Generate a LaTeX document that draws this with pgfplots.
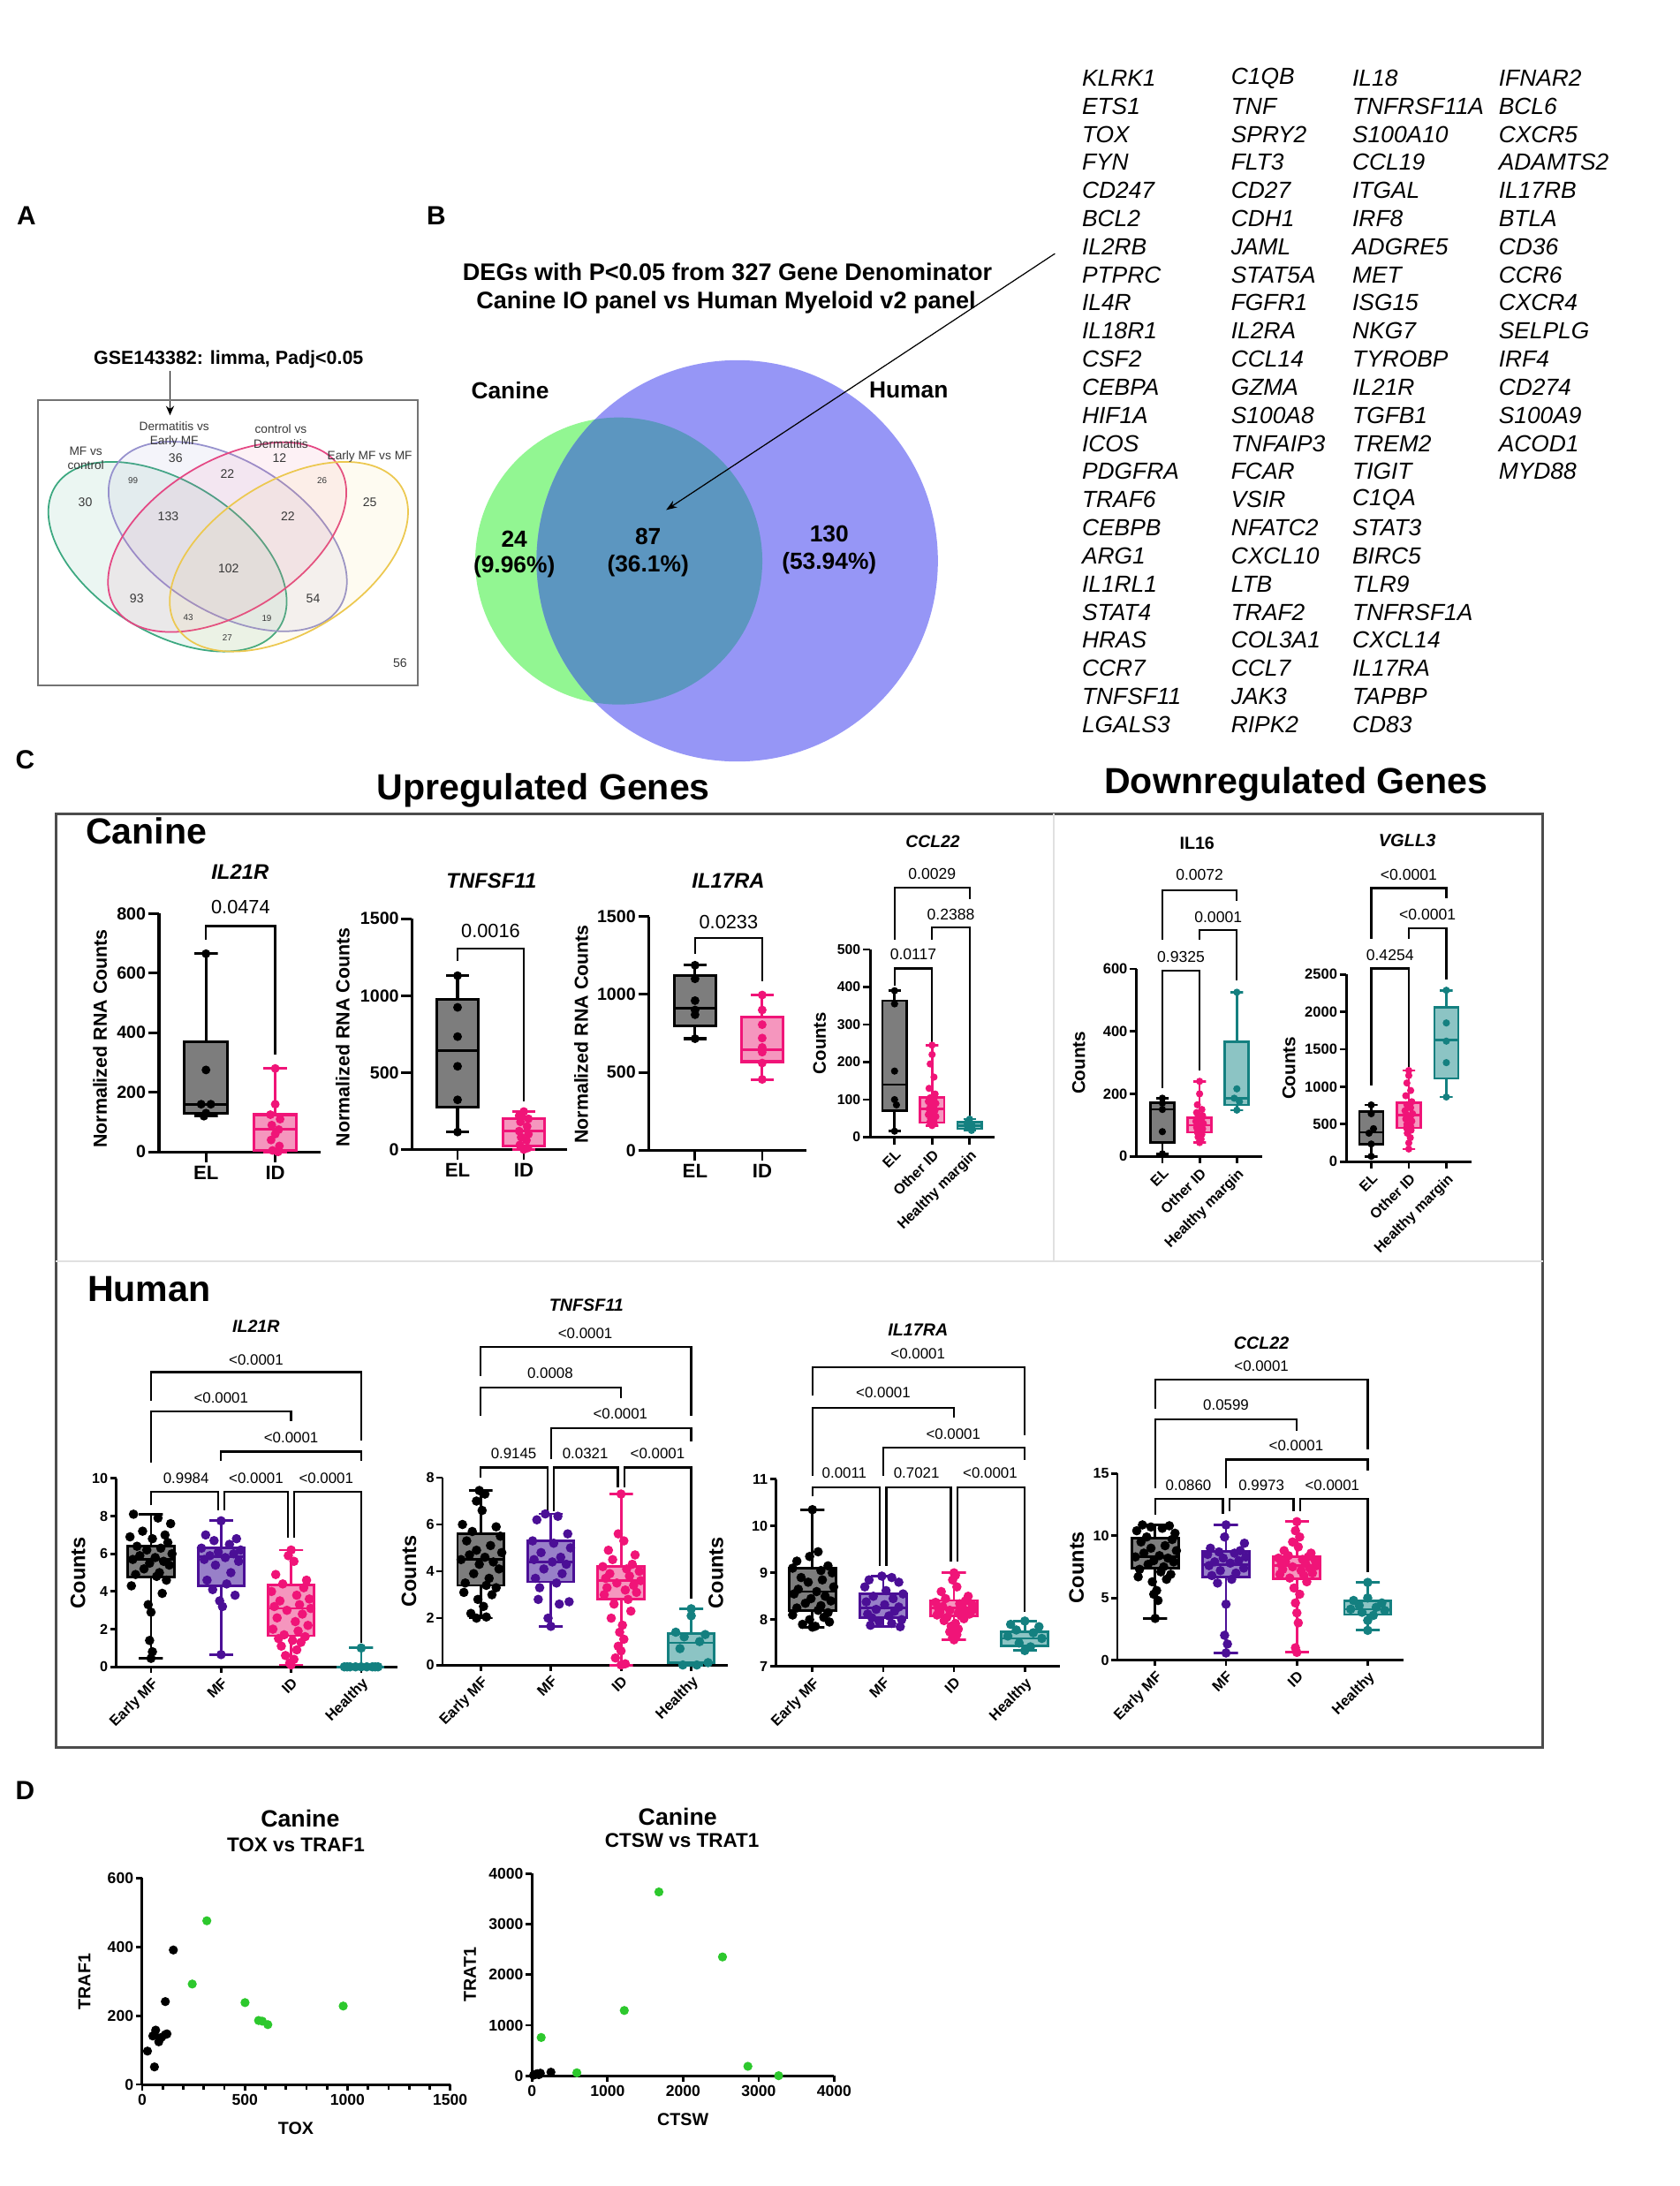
\documentclass[border=0pt]{standalone}
\usepackage{fontspec}
\setmainfont{Liberation Sans}
\usepackage{pgfplots}
\pgfplotsset{compat=1.18}
\usetikzlibrary{arrows.meta}

\newcommand\fs[1]{\fontsize{#1}{#1}\selectfont}

\definecolor{elgray}{RGB}{125,125,125}
\definecolor{pinkE}{RGB}{240,20,120}
\definecolor{pinkF}{RGB}{245,150,190}
\definecolor{purpE}{RGB}{75,15,150}
\definecolor{purpF}{RGB}{152,128,200}
\definecolor{tealE}{RGB}{20,128,128}
\definecolor{tealF}{RGB}{140,196,196}
\definecolor{ptgreen}{RGB}{45,200,45}
\definecolor{vgreen}{RGB}{146,246,146}
\definecolor{vblue}{RGB}{150,150,246}
\definecolor{vover}{RGB}{92,150,192}
\definecolor{vaG}{RGB}{60,168,128}
\definecolor{vaP}{RGB}{150,145,205}
\definecolor{vaR}{RGB}{228,72,132}
\definecolor{vaY}{RGB}{236,200,80}
\definecolor{txtA}{RGB}{55,55,55}

\pgfplotsset{
  gp/.style={
    scale only axis, clip=false,
    axis lines*=left,
    axis line style={line width=0.85pt,-},
    tick style={line width=0.8pt,black},
    tick align=outside, major tick length=2pt,
    scaled ticks=false,
    /pgf/number format/assume math mode=true,
    /pgf/number format/1000 sep={},
    yticklabel style={inner sep=0.6pt},
    xticklabel style={inner sep=1pt},
  },
  can2/.style={gp, xtick={1,2}, xticklabels={EL,ID}, major tick length=3.4pt,
    axis line style={line width=0.95pt},
    xticklabel style={font=\bfseries\fs{6.3}},
    yticklabel style={font=\bfseries\fs{5.6}}},
  can3/.style={gp, xtick={1,2,3}, xticklabels={EL,Other ID,Healthy margin},
    xticklabel style={rotate=45, anchor=north east, inner sep=0.8pt, font=\bfseries\fs{4.65}},
    major tick length=2.4pt},
  hum/.style={gp, xtick={1,2,3,4}, xticklabels={Early MF,MF,ID,Healthy},
    xticklabel style={font=\bfseries\fs{4.7}, rotate=45, anchor=north east, inner sep=0.8pt},
    yticklabel style={font=\bfseries\fs{4.6}}, major tick length=1.9pt,
    axis line style={line width=0.8pt}},
  brk/.style={black, line width=0.65pt, mark=none},
  pts/.style={only marks, mark=*, mark size=#1},
}

% box and whiskers: position, low whisker, Q1, median, Q3, high whisker, edge, fill
\def\bxhw{0.32}\def\bxcw{0.17}\def\bxlw{0.9pt}
\newcommand\bxp[8]{%
  \pgfmathsetmacro\bxL{#1-\bxhw}\pgfmathsetmacro\bxR{#1+\bxhw}%
  \pgfmathsetmacro\bwL{#1-\bxcw}\pgfmathsetmacro\bwR{#1+\bxcw}%
  \edef\bxtmp{%
    \noexpand\addplot[draw=#7, fill=#8, line width=\bxlw, line cap=rect] coordinates {(\bxL,#3)(\bxR,#3)(\bxR,#5)(\bxL,#5)(\bxL,#3)};%
    \noexpand\addplot[draw=#7, line width=\bxlw] coordinates {(\bxL,#4)(\bxR,#4)};%
    \noexpand\addplot[draw=#7, line width=\bxlw] coordinates {(\bwL,#6)(\bwR,#6)(#1,#6)(#1,#5)};%
    \noexpand\addplot[draw=#7, line width=\bxlw] coordinates {(\bwL,#2)(\bwR,#2)(#1,#2)(#1,#3)};%
  }\bxtmp}

\begin{document}
\begin{tikzpicture}
\path[use as bounding box] (0,0) rectangle (19.01,24.75);

% ---------- content placed in screen units of the reference (1 unit = 1.5785 px)
\begin{scope}[x=0.015785cm, y=-0.015785cm, yshift=24.75cm]
\node[font=\bfseries\fs{8.5}] at (19,155) {A};
\node[font=\bfseries\fs{8.5}] at (313,155) {B};
\node[font=\bfseries\fs{8.5}] at (18,545) {C};
\node[font=\bfseries\fs{8.5}] at (18,1285) {D};

% A: four-set Venn
\node[font=\bfseries\fs{6.1}] at (164,258) {GSE143382: limma, Padj<0.05};
\draw[-{Stealth[length=3pt,width=2.6pt]}, line width=0.5pt] (122,266) -- (122,298);
\draw[black!55, line width=0.6pt] (27,287) rectangle (300,492);
\begin{scope}[line width=0.5pt]
\draw[vaG, fill=vaG, fill opacity=0.1, rotate around={-32:(120.2,399.5)}] (120.2,399.5) ellipse [x radius=95, y radius=54];
\draw[vaP, fill=vaP, fill opacity=0.1, rotate around={-32:(163.4,385)}] (163.4,385) ellipse [x radius=95, y radius=54];
\draw[vaR, fill=vaR, fill opacity=0.08, rotate around={32:(163,385.5)}] (163,385.5) ellipse [x radius=95, y radius=54];
\draw[vaY, fill=vaY, fill opacity=0.08, rotate around={32:(207.3,399.5)}] (207.3,399.5) ellipse [x radius=95, y radius=54];
\end{scope}
\begin{scope}[every node/.style={text=txtA, inner sep=0pt}]
\node[align=center, font=\fontsize{3.9}{4.6}\selectfont] at (61.6,328.8) {MF vs\\control};
\node[align=center, font=\fontsize{3.9}{4.6}\selectfont] at (125,311.8) {Dermatitis vs\\Early MF};
\node[align=center, font=\fontsize{3.9}{4.6}\selectfont] at (201.5,313.2) {control vs\\Dermatitis};
\node[font=\fs{3.9}] at (265.3,327.8) {Early MF vs MF};
\node[font=\fs{4}] at (126,329) {36};
\node[font=\fs{4}] at (200.5,329) {12};
\node[font=\fs{4}] at (61.2,360.5) {30};
\node[font=\fs{2.8}] at (95.4,344.6) {99};
\node[font=\fs{4}] at (163.1,340.2) {22};
\node[font=\fs{2.8}] at (231.1,344.6) {26};
\node[font=\fs{4}] at (265.3,360.5) {25};
\node[font=\fs{4}] at (120.7,370.5) {133};
\node[font=\fs{4}] at (206.6,370.5) {22};
\node[font=\fs{4}] at (164,408.2) {102};
\node[font=\fs{4}] at (98.1,429.7) {93};
\node[font=\fs{4}] at (224.7,429.7) {54};
\node[font=\fs{2.8}] at (135.1,443.2) {43};
\node[font=\fs{2.8}] at (191.4,443.6) {19};
\node[font=\fs{2.8}] at (163.1,457.8) {27};
\node[font=\fs{4}] at (287,475.8) {56};
\end{scope}

% B: two-set Venn
\fill[vgreen] (444,402.6) circle [radius=103];
\fill[vblue] (529,402.5) circle [radius=144];
\begin{scope}
\clip (444,402.6) circle [radius=103];
\fill[vover] (529,402.5) circle [radius=144];
\end{scope}
\node[font=\bfseries\fs{7.7}] at (522,195) {DEGs with P<0.05 from 327 Gene Denominator};
\node[font=\bfseries\fs{7.7}] at (521,217) {Canine IO panel vs Human Myeloid v2 panel};
\node[font=\bfseries\fs{7.5}] at (366,280) {Canine};
\node[font=\bfseries\fs{7.5}] at (652,280) {Human};
\node[font=\bfseries\fs{7.5}] at (369,386.6) {24};
\node[font=\bfseries\fs{7.5}] at (369,407) {(9.96\%)};
\node[font=\bfseries\fs{7.5}] at (465,385) {87};
\node[font=\bfseries\fs{7.5}] at (465,406) {(36.1\%)};
\node[font=\bfseries\fs{7.5}] at (595,383) {130};
\node[font=\bfseries\fs{7.5}] at (595,404) {(53.94\%)};
\draw[-{Stealth[length=3.5pt,width=2.5pt]}, line width=0.35pt] (757,182) -- (478,366);

% gene list
\begin{scope}[every node/.style={anchor=west, inner sep=0pt, font=\itshape\fs{7.5}}]
\foreach \g [count=\i from 0] in {KLRK1,ETS1,TOX,FYN,CD247,BCL2,IL2RB,PTPRC,IL4R,IL18R1,CSF2,CEBPA,HIF1A,ICOS,PDGFRA,TRAF6,CEBPB,ARG1,IL1RL1,STAT4,HRAS,CCR7,TNFSF11,LGALS3}
  \node at (776,{56+20.17*\i}) {\g};
\foreach \g [count=\i from 0] in {C1QB,TNF,SPRY2,FLT3,CD27,CDH1,JAML,STAT5A,FGFR1,IL2RA,CCL14,GZMA,S100A8,TNFAIP3,FCAR,VSIR,NFATC2,CXCL10,LTB,TRAF2,COL3A1,CCL7,JAK3,RIPK2}
  \node at (883,{56+20.17*\i}) {\g};
\foreach \g [count=\i from 0] in {IL18,TNFRSF11A,S100A10,CCL19,ITGAL,IRF8,ADGRE5,MET,ISG15,NKG7,TYROBP,IL21R,TGFB1,TREM2,TIGIT,C1QA,STAT3,BIRC5,TLR9,TNFRSF1A,CXCL14,IL17RA,TAPBP,CD83}
  \node at (970,{56+20.17*\i}) {\g};
\foreach \g [count=\i from 0] in {IFNAR2,BCL6,CXCR5,ADAMTS2,IL17RB,BTLA,CD36,CCR6,CXCR4,SELPLG,IRF4,CD274,S100A9,ACOD1,MYD88}
  \node at (1075,{56+20.17*\i}) {\g};
\end{scope}

% C: frame and headings
\node[font=\bfseries\fs{11.7}] at (390,567) {Upregulated Genes};
\node[font=\bfseries\fs{11.7}] at (930,563) {Downregulated Genes};
\draw[black!70, line width=0.8pt] (40,584) rectangle (1107,1254);
\draw[black!12, line width=0.6pt] (756,584) -- (756,905) (40,905) -- (1107,905);
\node[font=\bfseries\fs{11.7}] at (105,596) {Canine};
\node[font=\bfseries\fs{11.7}] at (107,925) {Human};

% D: headings and labels
\node[font=\bfseries\fs{7.6}] at (215.4,1305) {Canine};
\node[font=\bfseries\fs{6.4}] at (212.3,1324) {TOX vs TRAF1};
\node[font=\bfseries\fs{7.6}] at (486.3,1304) {Canine};
\node[font=\bfseries\fs{6.4}] at (489.4,1321) {CTSW vs TRAT1};
\node[font=\bfseries\fs{5.6}] at (212.3,1527.6) {TOX};
\node[font=\bfseries\fs{5.6}] at (490,1521) {CTSW};
\node[rotate=90, font=\bfseries\fs{5.6}] at (60.6,1422) {TRAF1};
\node[rotate=90, font=\bfseries\fs{5.6}] at (337.3,1417) {TRAT1};
\end{scope}

% ---------- content placed in pixels of the reference
\begin{scope}[x=0.01cm, y=-0.01cm, yshift=24.75cm]
% titles
\node[font=\bfseries\itshape\fs{6.8}] at (272,988) {IL21R};
\node[font=\bfseries\itshape\fs{6.8}] at (556.7,998) {TNFSF11};
\node[font=\bfseries\itshape\fs{6.8}] at (825,998) {IL17RA};
\node[font=\bfseries\itshape\fs{5.5}] at (1056.7,953.3) {CCL22};
\node[font=\bfseries\fs{5.6}] at (1356,955) {IL16};
\node[font=\bfseries\itshape\fs{5.7}] at (1594,952) {VGLL3};
\node[font=\bfseries\itshape\fs{5.6}] at (290,1503) {IL21R};
\node[font=\bfseries\itshape\fs{5.6}] at (664.2,1479) {TNFSF11};
\node[font=\bfseries\itshape\fs{5.6}] at (1039.9,1506.7) {IL17RA};
\node[font=\bfseries\itshape\fs{5.6}] at (1428.9,1522) {CCL22};
% y labels
\node[rotate=90, inner sep=0pt, font=\bfseries\fs{6.1}] at (113.3,1176.7) {Normalized RNA Counts};
\node[rotate=90, inner sep=0pt, font=\bfseries\fs{6.1}] at (388.3,1175) {Normalized RNA Counts};
\node[rotate=90, inner sep=0pt, font=\bfseries\fs{6.1}] at (658.3,1171.7) {Normalized RNA Counts};
\node[rotate=90, inner sep=0pt, font=\bfseries\fs{5.8}] at (928.3,1181.7) {Counts};
\node[rotate=90, inner sep=0pt, font=\bfseries\fs{5.9}] at (1222,1204) {Counts};
\node[rotate=90, inner sep=0pt, font=\bfseries\fs{5.9}] at (1460,1210) {Counts};
\node[rotate=90, inner sep=0pt, font=\bfseries\fs{6.7}] at (88.4,1781.8) {Counts};
\node[rotate=90, inner sep=0pt, font=\bfseries\fs{6.7}] at (463.3,1780) {Counts};
\node[rotate=90, inner sep=0pt, font=\bfseries\fs{6.7}] at (810.9,1781.8) {Counts};
\node[rotate=90, inner sep=0pt, font=\bfseries\fs{6.7}] at (1219.4,1775.6) {Counts};
% axis anchors (lower-left corners)
\coordinate (cA) at (180,1305);
\coordinate (cB) at (466.7,1302.3);
\coordinate (cC) at (735,1303.3);
\coordinate (cD) at (986,1288.3);
\coordinate (cE) at (1287.3,1310);
\coordinate (cF) at (1525,1316);
\coordinate (hA) at (131.7,1888.3);
\coordinate (hB) at (501.3,1886.2);
\coordinate (hC) at (879.1,1887.9);
\coordinate (hD) at (1265.8,1880.8);
\coordinate (sA) at (161,2361.4);
\coordinate (sB) at (602.7,2351.5);
\end{scope}

% ================= Canine IL21R
\def\bxhw{0.31}\def\bxlw{0.9pt}
\begin{axis}[can2, at={(cA)}, anchor=south west, width=1.833cm, height=2.70cm,
  xmin=0.32, xmax=2.658, ymin=0, ymax=800, ytick={0,200,400,600,800}]
\bxp{1}{120}{130}{160}{370}{665}{black}{elgray}
\bxp{2}{0}{5}{75}{125}{280}{pinkE}{pinkF}
\addplot[pts=1.2pt, black] coordinates {(1,665)(1,275)(0.93,160)(1.07,160)(1,130)(0.97,120)};
\addplot[pts=1.2pt, pinkE] coordinates {(2,280)(2,160)(1.93,125)(2.07,110)(1.95,90)(2.05,75)(2.0,60)(1.94,40)(2.06,20)(1.96,5)(2.04,0)};
\addplot[brk] coordinates {(1,712)(1,758)(2,758)(2,326)};
\node[font=\fs{6.2}] at (axis cs:1.5,821) {0.0474};
\end{axis}

% ================= Canine TNFSF11
\begin{axis}[can2, at={(cB)}, anchor=south west, width=1.76cm, height=2.613cm,
  xmin=0.312, xmax=2.659, ymin=0, ymax=1500, ytick={0,500,1000,1500}]
\bxp{1}{114}{275}{641}{974}{1130}{black}{elgray}
\bxp{2}{0}{25}{120}{200}{247}{pinkE}{pinkF}
\addplot[pts=1.2pt, black] coordinates {(1,1130)(1,924)(1,734)(1,541)(1,323)(1,114)};
\addplot[pts=1.2pt, pinkE] coordinates {(2,247)(1.93,220)(2.07,200)(1.95,180)(2.05,150)(1.93,120)(2.07,100)(1.96,80)(2.04,60)(1.94,30)(2.06,10)(2,0)};
\addplot[brk] coordinates {(1,1224)(1,1305)(2,1305)(2,313)};
\node[font=\fs{6.2}] at (axis cs:1.5,1420) {0.0016};
\end{axis}

% ================= Canine IL17RA
\begin{axis}[can2, at={(cC)}, anchor=south west, width=1.785cm, height=2.65cm,
  xmin=0.312, xmax=2.66, ymin=0, ymax=1500, ytick={0,500,1000,1500}]
\bxp{1}{716}{797}{911}{1120}{1187}{black}{elgray}
\bxp{2}{455}{569}{645}{854}{996}{pinkE}{pinkF}
\addplot[pts=1.2pt, black] coordinates {(1,1187)(1,1100)(1,960)(1,900)(1,870)(1,716)};
\addplot[pts=1.2pt, pinkE] coordinates {(2,996)(2,900)(2,806)(2,720)(2,660)(2,630)(2,560)(2,455)};
\addplot[brk] coordinates {(1,1262)(1,1361)(2,1361)(2,1082)};
\node[font=\fs{6.2}] at (axis cs:1.5,1462) {0.0233};
\end{axis}

% ================= Canine CCL22
\def\bxhw{0.32}\def\bxcw{0.17}\def\bxlw{0.75pt}
\begin{axis}[can3, at={(cD)}, anchor=south west, width=1.407cm, height=2.126cm,
  xmin=0.357, xmax=3.668, ymin=0, ymax=500, ytick={0,100,200,300,400,500},
  yticklabel style={font=\bfseries\fs{4.5}}]
\bxp{1}{16}{71}{140}{363}{390}{black}{elgray}
\bxp{2}{31}{39}{75}{106}{245}{pinkE}{pinkF}
\bxp{3}{18}{22}{30}{40}{48}{tealE}{tealF}
\addplot[pts=0.95pt, black] coordinates {(1,390)(1,355)(1,176)(1,100)(1.05,86)(1,16)};
\addplot[pts=0.95pt, pinkE] coordinates {(2,245)(2,220)(1.95,195)(2.05,160)(1.92,130)(2.08,115)(1.95,105)(2.05,100)(1.9,95)(2.1,90)(1.96,85)(2.04,80)(1.92,75)(2.08,72)(1.95,68)(2.05,64)(1.9,60)(2.1,55)(1.96,50)(2.04,45)(1.94,40)(2.06,38)(2,35)(2,31)};
\addplot[pts=0.95pt, tealE] coordinates {(3,48)(2.93,38)(3.07,30)(2.95,25)(3.05,18)};
\addplot[brk] coordinates {(1,404)(1,449)(2,449)(2,253)};
\addplot[brk] coordinates {(2,525)(2,558)(3,558)(3,55)};
\addplot[brk] coordinates {(1,525)(1,665)(3,665)(3,634)};
\node[font=\fs{5}] at (axis cs:1.5,488) {0.0117};
\node[font=\fs{5}] at (axis cs:2.5,592) {0.2388};
\node[font=\fs{5}] at (axis cs:2,700) {0.0029};
\end{axis}

% ================= Canine IL16
\begin{axis}[can3, at={(cE)}, anchor=south west, width=1.42cm, height=2.123cm,
  xmin=0.303, xmax=3.671, ymin=0, ymax=600, ytick={0,200,400,600},
  major tick length=2.1pt, yticklabel style={font=\bfseries\fs{4.7}}]
\bxp{1}{8}{44}{150}{171}{186}{black}{elgray}
\bxp{2}{44}{77}{100}{124}{240}{pinkE}{pinkF}
\bxp{3}{148}{165}{186}{367}{525}{tealE}{tealF}
\addplot[pts=0.95pt, black] coordinates {(1,186)(1,170)(1,150)(1,79)(1,8)};
\addplot[pts=0.95pt, pinkE] coordinates {(2,240)(2,200)(1.94,165)(2.06,150)(1.92,140)(2.08,130)(1.95,124)(2.05,118)(1.9,112)(2.1,105)(1.96,100)(2.04,96)(1.92,92)(2.08,88)(1.95,84)(2.05,80)(1.94,77)(2.06,70)(1.96,62)(2.04,55)(2,48)(2,44)};
\addplot[pts=0.95pt, tealE] coordinates {(3,525)(3,216)(2.93,186)(3.07,175)(3,148)};
\addplot[brk] coordinates {(1,218)(1,595)(2,595)(2,275)};
\addplot[brk] coordinates {(2,694)(2,724)(3,724)(3,564)};
\addplot[brk] coordinates {(1,694)(1,851)(3,851)(3,817)};
\node[font=\fs{5}] at (axis cs:1.5,638) {0.9325};
\node[font=\fs{5}] at (axis cs:2.5,765) {0.0001};
\node[font=\fs{5}] at (axis cs:2,900) {0.0072};
\end{axis}

% ================= Canine VGLL3
\begin{axis}[can3, at={(cF)}, anchor=south west, width=1.417cm, height=2.12cm,
  xmin=0.334, xmax=3.668, ymin=0, ymax=2500, ytick={0,500,1000,1500,2000,2500},
  major tick length=2.1pt, yticklabel style={font=\bfseries\fs{4.7}}]
\bxp{1}{71}{235}{392}{667}{757}{black}{elgray}
\bxp{2}{169}{451}{620}{785}{1217}{pinkE}{pinkF}
\bxp{3}{863}{1110}{1621}{2060}{2288}{tealE}{tealF}
\addplot[pts=0.95pt, black] coordinates {(1,757)(1,640)(1.06,440)(0.94,380)(1,235)(1,71)};
\addplot[pts=0.95pt, pinkE] coordinates {(2,1217)(2,1150)(1.95,1050)(2.05,950)(1.92,880)(2.08,800)(1.95,760)(2.05,720)(1.9,680)(2.1,640)(1.96,620)(2.04,600)(1.92,570)(2.08,540)(1.95,500)(2.05,470)(1.94,450)(2.06,420)(1.96,380)(2.04,320)(2,250)(2,169)};
\addplot[pts=0.95pt, tealE] coordinates {(3,2288)(3,1852)(3,1609)(3,1322)(3,863)};
\addplot[brk] coordinates {(1,1020)(1,2578)(2,2578)(2,1267)};
\addplot[brk] coordinates {(2,2975)(2,3120)(3,3120)(3,2433)};
\addplot[brk] coordinates {(1,2975)(1,3654)(3,3654)(3,3513)};
\node[font=\fs{5}] at (axis cs:1.5,2759) {0.4254};
\node[font=\fs{5}] at (axis cs:2.5,3300) {<0.0001};
\node[font=\fs{5}] at (axis cs:2,3830) {<0.0001};
\end{axis}

% ================= Human IL21R
\def\bxhw{0.33}\def\bxcw{0.17}\def\bxlw{0.8pt}
\begin{axis}[hum, at={(hA)}, anchor=south west, width=3.183cm, height=2.133cm,
  xmin=0.504, xmax=4.517, ymin=0, ymax=10, ytick={0,2,4,6,8,10}]
\bxp{1}{0.45}{4.75}{5.7}{6.4}{8.1}{black}{elgray}
\bxp{2}{0.65}{4.3}{5.85}{6.3}{7.75}{purpE}{purpF}
\bxp{3}{0.1}{1.65}{3.1}{4.35}{6.2}{pinkE}{pinkF}
\bxp{4}{0}{0}{0}{0}{1.0}{tealE}{tealF}
\addplot[pts=1.3pt, black] coordinates {(0.75,8.1)(1.10,7.9)(1.28,7.6)(0.88,7.2)(1.20,7.0)(0.70,6.9)(1.02,6.8)(1.24,6.6)(0.80,6.4)(1.14,6.3)(0.94,6.2)(1.30,6.0)(0.84,5.9)(1.06,5.8)(0.74,5.7)(1.18,5.6)(0.98,5.5)(1.26,5.4)(0.90,5.2)(1.12,5.0)(0.78,4.9)(1.08,4.8)(1.22,4.6)(0.72,4.3)(1.16,3.9)(0.96,3.3)(1.0,2.9)(0.98,1.4)(1.02,0.8)(1.0,0.45)};
\addplot[pts=1.3pt, purpE] coordinates {(2.0,7.75)(1.78,7.0)(2.22,6.8)(1.90,6.7)(2.12,6.5)(1.72,6.3)(2.28,6.2)(1.96,6.1)(2.18,6.0)(1.84,5.9)(2.06,5.8)(1.76,5.7)(2.25,5.6)(1.92,5.4)(2.14,5.0)(1.80,4.6)(2.08,4.4)(1.88,4.1)(2.20,3.8)(1.98,3.5)(2.02,3.2)(2.0,0.65)};
\addplot[pts=1.3pt, pinkE] coordinates {(3.0,6.2)(2.96,5.9)(3.04,5.6)(2.78,4.9)(3.22,4.6)(2.88,4.4)(3.18,4.2)(2.72,4.0)(3.08,3.8)(3.26,3.6)(2.84,3.5)(3.12,3.3)(2.76,3.2)(3.28,3.1)(2.94,3.0)(3.16,2.8)(2.80,2.6)(3.06,2.4)(3.24,2.2)(2.74,2.0)(3.10,1.9)(2.90,1.7)(3.20,1.6)(2.82,1.5)(3.02,1.4)(3.14,1.3)(2.86,1.1)(3.08,0.9)(2.92,0.6)(3.04,0.4)(2.98,0.2)(3.0,0.1)};
\addplot[pts=1.3pt, tealE] coordinates {(4.0,1.0)(3.76,0)(3.84,0)(3.92,0)(4.0,0)(4.08,0)(4.16,0)(4.24,0)(3.80,0)(4.20,0)};
\addplot[brk] coordinates {(1,8.57)(1,9.3)(1.955,9.3)(1.955,8.32)};
\addplot[brk] coordinates {(2.045,8.32)(2.045,9.3)(2.955,9.3)(2.955,6.84)};
\addplot[brk] coordinates {(3.045,6.84)(3.045,9.3)(4,9.3)(4,1.26)};
\addplot[brk] coordinates {(2,10.92)(2,11.43)(4,11.43)(4,10.92)};
\addplot[brk] coordinates {(1,10.84)(1,13.56)(3,13.56)(3,13.02)};
\addplot[brk] coordinates {(1,14.1)(1,15.65)(4,15.65)(4,12.0)};
\node[font=\fs{4.8}] at (axis cs:1.5,10.03) {0.9984};
\node[font=\fs{4.8}] at (axis cs:2.5,10.03) {<0.0001};
\node[font=\fs{4.8}] at (axis cs:3.5,10.03) {<0.0001};
\node[font=\fs{4.8}] at (axis cs:3,12.18) {<0.0001};
\node[font=\fs{4.8}] at (axis cs:2,14.29) {<0.0001};
\node[font=\fs{4.8}] at (axis cs:2.5,16.3) {<0.0001};
\end{axis}

% ================= Human TNFSF11
\begin{axis}[hum, at={(hB)}, anchor=south west, width=3.226cm, height=2.121cm,
  xmin=0.456, xmax=4.517, ymin=0, ymax=8, ytick={0,2,4,6,8}]
\bxp{1}{2.0}{3.4}{4.5}{5.6}{7.45}{black}{elgray}
\bxp{2}{1.65}{3.55}{4.4}{5.3}{6.45}{purpE}{purpF}
\bxp{3}{0}{2.8}{3.6}{4.2}{7.3}{pinkE}{pinkF}
\bxp{4}{0}{0.1}{0.95}{1.35}{2.4}{tealE}{tealF}
\addplot[pts=1.3pt, black] coordinates {(0.98,7.45)(1.06,7.3)(0.94,7.0)(1.02,6.6)(0.74,6.0)(1.22,5.9)(0.88,5.7)(1.28,5.5)(0.80,5.3)(1.14,5.1)(0.94,4.9)(1.30,4.8)(0.84,4.7)(1.06,4.6)(0.72,4.5)(1.18,4.4)(0.98,4.3)(1.26,4.1)(0.90,3.9)(1.12,3.7)(0.78,3.5)(1.08,3.4)(1.22,3.3)(0.76,3.1)(1.16,3.0)(0.96,2.8)(1.04,2.5)(0.86,2.2)(1.08,2.05)(0.94,2.0)};
\addplot[pts=1.3pt, purpE] coordinates {(1.92,6.45)(2.10,6.35)(1.80,6.2)(2.24,5.6)(1.74,5.3)(2.04,5.2)(2.28,5.0)(1.86,4.8)(2.14,4.6)(1.76,4.5)(2.02,4.4)(2.22,4.3)(1.90,4.1)(2.16,3.9)(1.78,3.7)(2.08,3.5)(1.84,3.3)(1.82,2.8)(2.26,2.7)(2.12,2.6)(1.96,2.0)(2.0,1.65)};
\addplot[pts=1.3pt, pinkE] coordinates {(3.0,7.3)(2.96,5.6)(3.04,5.3)(2.82,4.9)(3.20,4.7)(2.88,4.5)(3.16,4.3)(2.74,4.2)(3.08,4.1)(3.26,4.0)(2.84,3.9)(3.12,3.8)(2.78,3.7)(3.28,3.6)(2.94,3.5)(3.18,3.4)(2.80,3.3)(3.06,3.2)(3.22,3.1)(2.76,3.0)(3.10,2.8)(2.90,2.6)(3.14,2.3)(2.86,2.0)(3.02,1.7)(2.98,1.4)(3.04,1.1)(2.96,0.8)(3.0,0.6)(2.92,0.3)(3.06,0.05)(3.0,0.0)};
\addplot[pts=1.3pt, tealE] coordinates {(4.0,2.4)(4.0,2.1)(3.78,1.4)(4.20,1.3)(3.90,1.2)(4.12,1.0)(3.84,0.7)(4.24,0.1)(3.88,0.0)(4.08,0.0)};
\addplot[brk] coordinates {(1,8.0)(1,8.43)(1.955,8.43)(1.955,6.58)};
\addplot[brk] coordinates {(2.045,6.58)(2.045,8.43)(2.955,8.43)(2.955,7.59)};
\addplot[brk] coordinates {(3.045,7.59)(3.045,8.43)(4,8.43)(4,2.85)};
\addplot[brk] coordinates {(2,8.81)(2,10.1)(4,10.1)(4,9.56)};
\addplot[brk] coordinates {(1,10.64)(1,11.84)(3,11.84)(3,11.39)};
\addplot[brk] coordinates {(1,12.34)(1,13.59)(4,13.59)(4,10.64)};
\node[font=\fs{4.8}] at (axis cs:1.47,9.02) {0.9145};
\node[font=\fs{4.8}] at (axis cs:2.49,9.02) {0.0321};
\node[font=\fs{4.8}] at (axis cs:3.52,9.02) {<0.0001};
\node[font=\fs{4.8}] at (axis cs:2.99,10.71) {<0.0001};
\node[font=\fs{4.8}] at (axis cs:1.99,12.45) {0.0008};
\node[font=\fs{4.8}] at (axis cs:2.49,14.17) {<0.0001};
\end{axis}

% ================= Human IL17RA
\begin{axis}[hum, at={(hC)}, anchor=south west, width=3.209cm, height=2.12cm,
  xmin=0.486, xmax=4.49, ymin=7, ymax=11, ytick={7,8,9,10,11}]
\bxp{1}{7.84}{8.19}{8.6}{9.1}{10.35}{black}{elgray}
\bxp{2}{7.85}{8.04}{8.25}{8.55}{8.93}{purpE}{purpF}
\bxp{3}{7.57}{8.08}{8.25}{8.41}{9.0}{pinkE}{pinkF}
\bxp{4}{7.34}{7.44}{7.6}{7.74}{7.97}{tealE}{tealF}
\addplot[pts=1.3pt, black] coordinates {(1.0,10.35)(1.08,9.45)(0.96,9.35)(0.78,9.25)(1.22,9.15)(0.72,9.1)(1.12,9.05)(1.28,9.0)(0.84,8.9)(1.14,8.85)(0.94,8.8)(1.30,8.7)(0.80,8.65)(1.06,8.6)(0.74,8.55)(1.18,8.5)(0.98,8.45)(1.26,8.4)(0.90,8.35)(1.12,8.3)(0.78,8.25)(1.08,8.2)(1.22,8.15)(0.72,8.1)(1.16,8.05)(0.96,8.0)(1.24,7.95)(0.86,7.9)(1.04,7.86)(1.0,7.84)};
\addplot[pts=1.3pt, purpE] coordinates {(1.98,8.93)(2.12,8.9)(1.80,8.85)(2.22,8.8)(1.74,8.7)(2.04,8.62)(2.28,8.55)(1.86,8.5)(2.14,8.45)(1.76,8.38)(2.02,8.32)(2.22,8.27)(1.90,8.22)(2.16,8.18)(1.78,8.12)(2.08,8.08)(1.84,8.04)(2.26,8.0)(1.94,7.96)(2.12,7.92)(1.82,7.88)(2.24,7.85)};
\addplot[pts=1.3pt, pinkE] coordinates {(3.0,9.0)(3.02,8.95)(2.98,8.85)(3.04,8.7)(2.82,8.6)(3.20,8.5)(2.88,8.45)(3.16,8.4)(2.74,8.37)(3.08,8.34)(3.26,8.31)(2.84,8.28)(3.12,8.26)(2.78,8.24)(3.28,8.22)(2.94,8.2)(3.18,8.18)(2.80,8.16)(3.06,8.14)(3.22,8.12)(2.76,8.1)(3.10,8.08)(2.90,8.05)(3.14,8.02)(2.86,7.98)(3.02,7.92)(2.96,7.86)(3.06,7.8)(2.94,7.74)(3.04,7.68)(2.98,7.62)(3.0,7.57)};
\addplot[pts=1.3pt, tealE] coordinates {(4.0,7.97)(3.80,7.9)(4.20,7.85)(3.88,7.78)(4.12,7.72)(3.76,7.65)(4.24,7.6)(3.92,7.5)(4.08,7.42)(4.0,7.34)};
\addplot[brk] coordinates {(1,10.63)(1,10.83)(1.955,10.83)(1.955,9.15)};
\addplot[brk] coordinates {(2.045,9.15)(2.045,10.83)(2.955,10.83)(2.955,9.25)};
\addplot[brk] coordinates {(3.045,9.25)(3.045,10.83)(4,10.83)(4,8.17)};
\addplot[brk] coordinates {(2,11.08)(2,11.67)(4,11.67)(4,11.42)};
\addplot[brk] coordinates {(1,11.08)(1,12.53)(3,12.53)(3,12.31)};
\addplot[brk] coordinates {(1,12.78)(1,13.39)(4,13.39)(4,11.94)};
\node[font=\fs{4.8}] at (axis cs:1.45,11.13) {0.0011};
\node[font=\fs{4.8}] at (axis cs:2.47,11.13) {0.7021};
\node[font=\fs{4.8}] at (axis cs:3.51,11.13) {<0.0001};
\node[font=\fs{4.8}] at (axis cs:2.99,11.97) {<0.0001};
\node[font=\fs{4.8}] at (axis cs:2.0,12.85) {<0.0001};
\node[font=\fs{4.8}] at (axis cs:2.49,13.68) {<0.0001};
\end{axis}

% ================= Human CCL22
\begin{axis}[hum, at={(hD)}, anchor=south west, width=3.244cm, height=2.114cm,
  xmin=0.467, xmax=4.512, ymin=0, ymax=15, ytick={0,5,10,15}]
\bxp{1}{3.36}{7.38}{8.3}{9.79}{10.87}{black}{elgray}
\bxp{2}{0.58}{6.7}{7.7}{8.72}{10.87}{purpE}{purpF}
\bxp{3}{0.63}{6.57}{7.6}{8.34}{11.13}{pinkE}{pinkF}
\bxp{4}{2.4}{3.67}{4.1}{4.75}{6.25}{tealE}{tealF}
\addplot[pts=1.3pt, black] coordinates {(0.82,10.87)(1.20,10.8)(0.94,10.7)(1.10,10.6)(0.74,10.4)(1.28,10.2)(0.88,9.9)(1.24,9.7)(0.80,9.5)(1.14,9.2)(0.94,9.0)(1.30,8.8)(0.84,8.6)(1.06,8.4)(0.72,8.3)(1.18,8.2)(0.98,8.0)(1.26,7.9)(0.90,7.7)(1.12,7.5)(0.78,7.3)(1.08,7.1)(1.22,6.9)(0.76,6.7)(1.16,6.5)(0.96,6.3)(1.02,5.6)(0.98,5.3)(1.04,4.8)(1.0,3.36)};
\addplot[pts=1.3pt, purpE] coordinates {(2.0,10.87)(1.98,9.9)(2.26,9.4)(1.78,9.0)(2.20,8.8)(1.90,8.7)(2.12,8.6)(1.74,8.5)(2.28,8.3)(1.96,8.2)(2.18,8.0)(1.84,7.9)(2.06,7.8)(1.76,7.6)(2.25,7.4)(1.92,7.2)(2.14,7.0)(1.80,6.8)(2.08,6.5)(1.88,6.2)(2.0,4.5)(1.98,2.0)(2.02,1.3)(2.0,0.58)};
\addplot[pts=1.3pt, pinkE] coordinates {(3.0,11.13)(2.98,10.4)(3.04,9.9)(2.94,9.5)(3.02,9.1)(2.82,8.8)(3.20,8.6)(2.88,8.4)(3.16,8.3)(2.74,8.2)(3.08,8.1)(3.26,8.0)(2.84,7.9)(3.12,7.8)(2.78,7.7)(3.28,7.6)(2.94,7.5)(3.18,7.4)(2.80,7.3)(3.06,7.2)(3.22,7.0)(2.76,6.9)(3.10,6.8)(2.90,6.6)(3.14,6.3)(2.96,5.8)(3.04,5.3)(2.98,4.6)(3.0,3.8)(3.02,3.0)(2.98,1.0)(3.0,0.63)};
\addplot[pts=1.3pt, tealE] coordinates {(4.0,6.25)(4.0,5.0)(3.80,4.8)(4.20,4.6)(3.88,4.4)(4.12,4.25)(3.76,4.1)(4.24,4.0)(3.92,3.85)(4.08,3.6)(4.0,3.2)(4.0,2.4)};
\addplot[brk] coordinates {(1,11.7)(1,12.97)(1.955,12.97)(1.955,11.75)};
\addplot[brk] coordinates {(2.045,12.0)(2.045,12.97)(2.955,12.97)(2.955,12.0)};
\addplot[brk] coordinates {(3.045,12.0)(3.045,12.97)(4,12.97)(4,7.08)};
\addplot[brk] coordinates {(2,13.78)(2,16.13)(4,16.13)(4,15.25)};
\addplot[brk] coordinates {(1,13.78)(1,19.34)(3,19.34)(3,18.46)};
\addplot[brk] coordinates {(1,20.23)(1,22.55)(4,22.55)(4,16.94)};
\node[font=\fs{4.8}] at (axis cs:1.47,14.03) {0.0860};
\node[font=\fs{4.8}] at (axis cs:2.5,14.03) {0.9973};
\node[font=\fs{4.8}] at (axis cs:3.5,14.03) {<0.0001};
\node[font=\fs{4.8}] at (axis cs:2.99,17.24) {<0.0001};
\node[font=\fs{4.8}] at (axis cs:2.0,20.48) {0.0599};
\node[font=\fs{4.8}] at (axis cs:2.5,23.64) {<0.0001};
\end{axis}

% ================= D: TOX vs TRAF1
\begin{axis}[gp, at={(sA)}, anchor=south west, width=3.488cm, height=2.336cm,
  xmin=0, xmax=1500, ymin=0, ymax=600, xtick={0,500,1000,1500}, ytick={0,200,400,600},
  minor x tick num=4, minor tick length=1.6pt, major tick length=2pt,
  ticklabel style={font=\bfseries\fs{5}}]
\addplot[pts=1.25pt, black] coordinates {(26,97)(60,51)(52,141)(60,144)(66,158)(81,124)(94,137)(113,145)(121,147)(113,241)(152,391)};
\addplot[pts=1.25pt, ptgreen] coordinates {(315,476)(244,292)(501,238)(567,186)(585,184)(612,174)(979,228)};
\end{axis}

% ================= D: CTSW vs TRAT1
\begin{axis}[gp, at={(sB)}, anchor=south west, width=3.421cm, height=2.287cm,
  xmin=0, xmax=4000, ymin=0, ymax=4000, xtick={0,1000,2000,3000,4000}, ytick={0,1000,2000,3000,4000},
  major tick length=2pt, ticklabel style={font=\bfseries\fs{5}}]
\addplot[pts=1.25pt, black] coordinates {(20,10)(50,30)(70,40)(90,20)(110,50)(250,70)};
\addplot[pts=1.25pt, ptgreen] coordinates {(121,757)(593,58)(1221,1292)(1679,3639)(2521,2352)(2857,186)(3264,0)};
\end{axis}

\end{tikzpicture}
\end{document}
